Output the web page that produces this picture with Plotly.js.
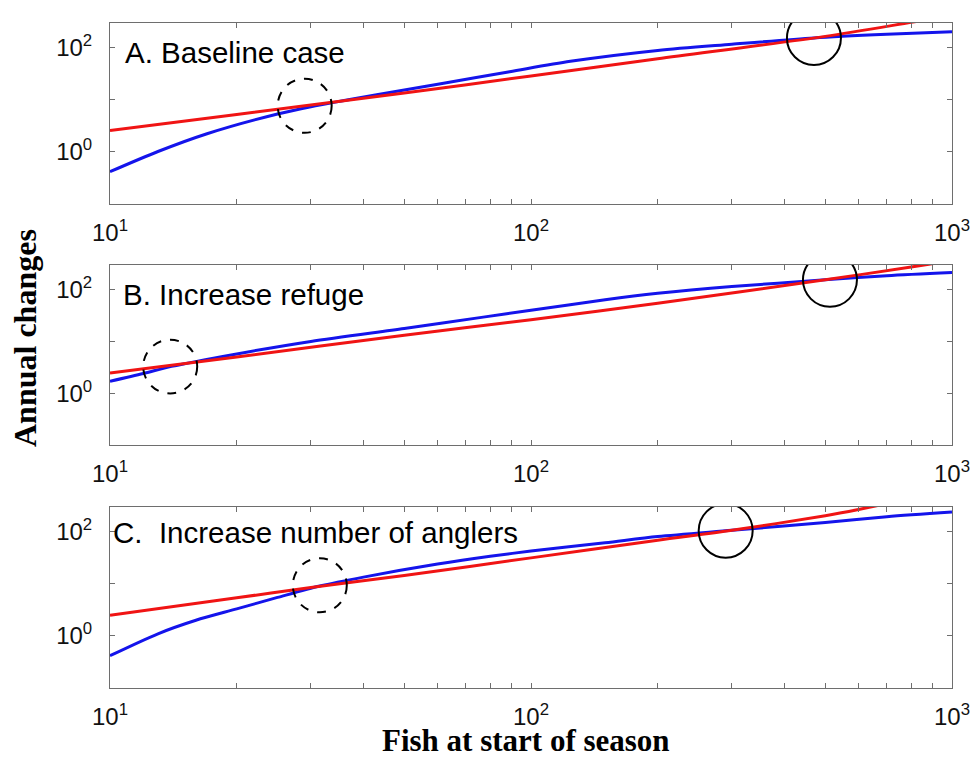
<!DOCTYPE html>
<html>
<head>
<meta charset="utf-8">
<script src="https://cdn.plot.ly/plotly-3.0.1.min.js"></script>
<style>html,body{margin:0;padding:0;background:#fff;}#chart{width:974px;height:761px;}</style>
</head>
<body>
<div id="chart"></div>
<script>
// ---- data ----
const panelLabels = ["A. Baseline case", "B. Increase refuge", "C.  Increase number of anglers"];
const xTitle = "Fish at start of season";
const yTitle = "Annual changes";

const fishBlueA = [10, 13, 17, 25, 30, 43, 62, 89, 124, 200, 300, 470, 700, 1000];
const blueA     = [0.417, 1.02, 2.24, 5.37, 7.41, 12.6, 20.9, 34.7, 55, 89, 117, 155, 182, 204];
const fishRedA  = [10, 20, 50, 100, 200, 500, 800, 1000];
const redA      = [2.57, 5.25, 13.5, 28.8, 61.7, 166, 309, 417];

const fishBlueB = [10, 12, 14, 20, 30, 50, 77, 100, 150, 200, 300, 500, 700, 1000];
const blueB     = [1.7, 2.4, 3.3, 5.75, 10, 17.8, 29.5, 40, 64, 85, 115, 155, 186, 214];
const fishRedB  = [10, 20, 50, 100, 200, 500, 800, 1000];
const redB      = [2.45, 5.0, 13.2, 26.3, 55, 155, 275, 363];

const fishBlueC = [10, 13, 16, 20, 25, 31.5, 40, 60, 80, 100, 150, 200, 300, 500, 700, 1000];
const blueC     = [0.417, 1.10, 2.0, 3.31, 5.5, 9.1, 13.5, 24, 33.9, 42.7, 61.7, 81.3, 107, 151, 195, 240];
const fishRedC  = [10, 20, 30, 50, 100, 200, 300, 500, 600, 1000];
const redC      = [2.5, 5.4, 8.5, 14.5, 31.6, 69, 107, 204, 269, 631];

// equilibrium markers: [fish, annual change]
const unstableA = [29, 7.7],    stableA = [470, 155];
const unstableB = [13.9, 3.27], stableB = [513, 155];
const unstableC = [31.5, 9.4],  stableC = [290, 105];

const xTickVals = [10,20,30,40,50,60,70,80,90,100,200,300,400,500,600,700,800,900,1000];
const xTickText = xTickVals.map(v => v === 10 ? "10<sup>1</sup>" : v === 100 ? "10<sup>2</sup>" : v === 1000 ? "10<sup>3</sup>" : "");
const yTickVals = [0.1, 1, 10, 100];
const yTickText = ["", "10<sup>0</sup>", "", "10<sup>2</sup>"];

// ---- styling ----
const W = 974, H = 761;
const BLUE = "rgb(20,20,235)", RED = "rgb(240,20,20)";
const axisColor = "rgb(110,110,110)";
const tickFont = {family: "Liberation Sans, Arial, sans-serif", size: 24, color: "#111"};
const xPix = [110, 952];
const xDom = [xPix[0] / W, xPix[1] / W];
const panels = [[23, 204], [265, 445], [507, 688]]; // pixel top/bottom of plot areas
const xRange = [1, 3], yRange = [-1, Math.log10(300)];

function yDom(p) { return [1 - p[1] / H, 1 - p[0] / H]; }

function line(x, y, color, xa, ya) {
  return {x: x, y: y, type: "scatter", mode: "lines", xaxis: xa, yaxis: ya,
          line: {color: color, width: 3, shape: "spline", smoothing: 0.8},
          hoverinfo: "skip", showlegend: false};
}

const traces = [
  line(fishBlueA, blueA, BLUE, "x", "y"),
  line(fishRedA, redA, RED, "x", "y"),
  line(fishBlueB, blueB, BLUE, "x2", "y2"),
  line(fishRedB, redB, RED, "x2", "y2"),
  line(fishBlueC, blueC, BLUE, "x3", "y3"),
  line(fishRedC, redC, RED, "x3", "y3")
];

function xAxis(anchor) {
  return {type: "log", domain: xDom, anchor: anchor, range: xRange,
          tickvals: xTickVals, ticktext: xTickText, tickfont: tickFont,
          ticks: "inside", ticklen: 5, tickwidth: 1, tickcolor: axisColor,
          showline: true, linecolor: axisColor, linewidth: 1, mirror: "allticks",
          showgrid: false, zeroline: false, ticklabelstandoff: 7, fixedrange: true};
}
function yAxis(anchor, p) {
  return {type: "log", domain: yDom(p), anchor: anchor, range: yRange,
          tickvals: yTickVals, ticktext: yTickText, tickfont: tickFont,
          ticks: "inside", ticklen: 5, tickwidth: 1, tickcolor: axisColor,
          showline: true, linecolor: axisColor, linewidth: 1, mirror: "allticks",
          showgrid: false, zeroline: false, ticklabelstandoff: 12, fixedrange: true};
}

// circle radius in pixels, converted to multiplicative factors on the log axes
const RADIUS = 27;
const pxPerDecX = (xPix[1] - xPix[0]) / (xRange[1] - xRange[0]);
const pxPerDecY = (panels[0][1] - panels[0][0]) / (yRange[1] - yRange[0]);
const fx = Math.pow(10, RADIUS / pxPerDecX), fy = Math.pow(10, RADIUS / pxPerDecY);

function circle(c, xr, yr, dashed) {
  return {type: "circle", xref: xr, yref: yr,
          x0: c[0] / fx, x1: c[0] * fx, y0: c[1] / fy, y1: c[1] * fy,
          line: {color: "#000", width: 2, dash: dashed ? "dash" : "solid"}, layer: "above"};
}

function label(text, px, py) {
  return {text: text, xref: "paper", yref: "paper", x: px / W, y: 1 - py / H,
          xanchor: "left", yanchor: "middle", showarrow: false,
          font: {family: "Liberation Sans, Arial, sans-serif", size: 29.5, color: "#000"}};
}

const layout = {
  width: W, height: H, margin: {l: 0, r: 0, t: 0, b: 0},
  paper_bgcolor: "#fff", plot_bgcolor: "#fff", showlegend: false,
  xaxis: xAxis("y"), yaxis: yAxis("x", panels[0]),
  xaxis2: xAxis("y2"), yaxis2: yAxis("x2", panels[1]),
  xaxis3: xAxis("y3"), yaxis3: yAxis("x3", panels[2]),
  shapes: [
    circle(unstableA, "x", "y", true), circle(stableA, "x", "y", false),
    circle(unstableB, "x2", "y2", true), circle(stableB, "x2", "y2", false),
    circle(unstableC, "x3", "y3", true), circle(stableC, "x3", "y3", false)
  ],
  annotations: [
    label(panelLabels[0], 123, 53),
    label(panelLabels[1], 121, 294),
    label(panelLabels[2], 111, 532),
    {text: "<b>" + yTitle + "</b>", xref: "paper", yref: "paper", x: 25 / W, y: 1 - 338 / H,
     textangle: -90, showarrow: false, xanchor: "center", yanchor: "middle",
     font: {family: "Liberation Serif, Times New Roman, serif", size: 32, color: "#000"}},
    {text: "<b>" + xTitle + "</b>", xref: "paper", yref: "paper", x: 526 / W, y: 1 - 740 / H,
     showarrow: false, xanchor: "center", yanchor: "middle",
     font: {family: "Liberation Serif, Times New Roman, serif", size: 31, color: "#000"}}
  ]
};

Plotly.newPlot("chart", traces, layout, {displayModeBar: false, staticPlot: true});
</script>
</body>
</html>
